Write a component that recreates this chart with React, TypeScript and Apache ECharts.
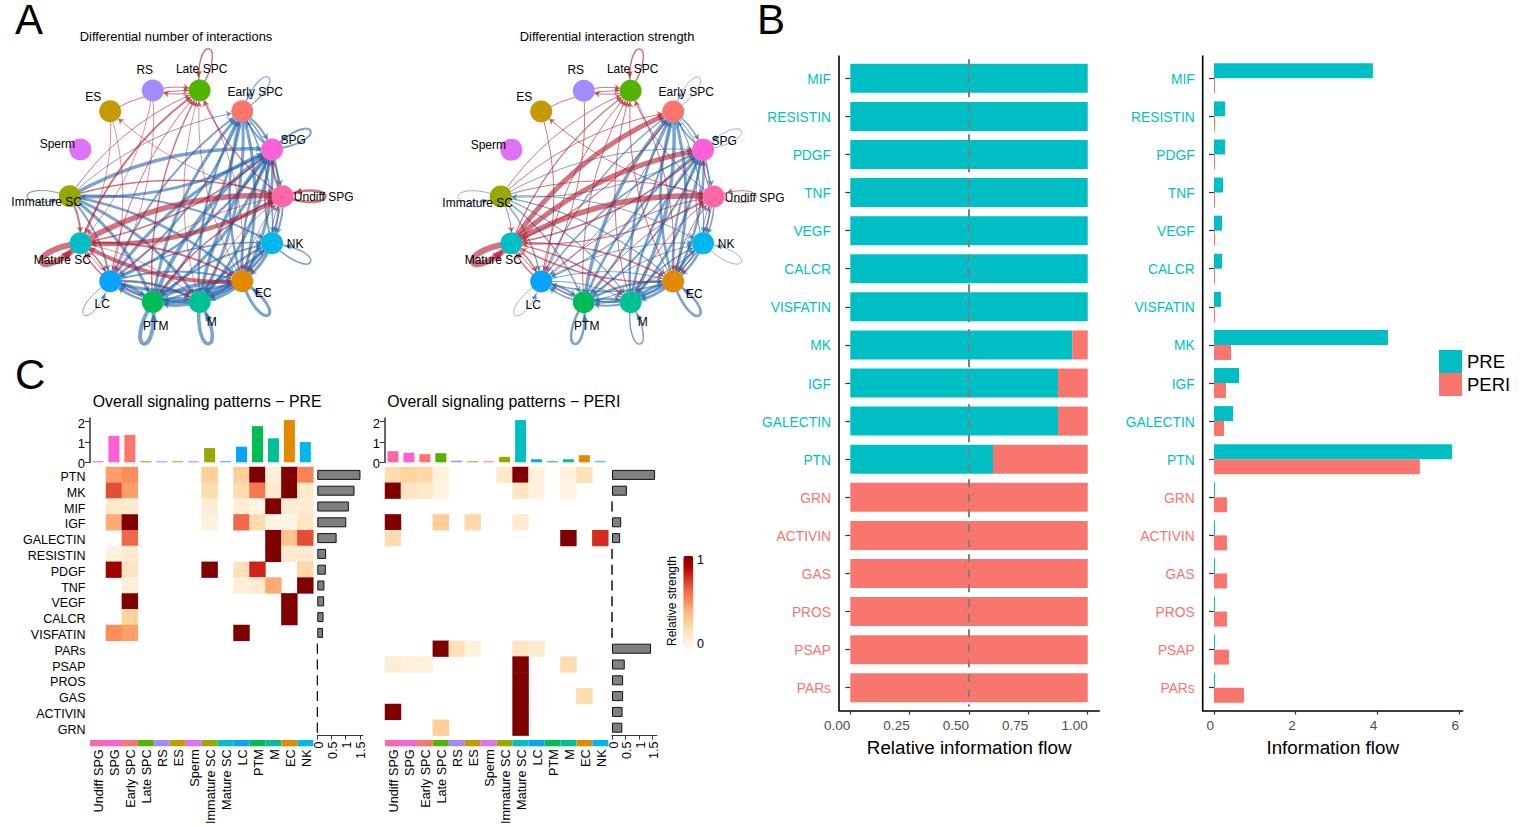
import React, { useEffect, useRef } from "react";
import * as echarts from "echarts";

const FONT = '"Liberation Sans", Arial, sans-serif';

// Panel B
const pathways = ["MIF","RESISTIN","PDGF","TNF","VEGF","CALCR","VISFATIN","MK","IGF","GALECTIN","PTN","GRN","ACTIVIN","GAS","PROS","PSAP","PARs"];
const relPre = [1,1,1,1,1,1,1,0.935,0.875,0.875,0.601,0,0,0,0,0,0];
const relPeri = [0,0,0,0,0,0,0,0.065,0.125,0.125,0.399,1,1,1,1,1,1];
const flowPre = [3.89,0.27,0.27,0.22,0.196,0.196,0.17,4.26,0.612,0.465,5.83,0.025,0.025,0.025,0.025,0.025,0.025];
const flowPeri = [0.025,0.025,0.025,0.025,0.025,0.025,0.025,0.416,0.294,0.245,5.04,0.318,0.318,0.318,0.318,0.367,0.735];
const prePathwayCount = 11;
const relTicks = [0,0.25,0.5,0.75,1];
const flowTicks = [0,2,4,6];
const PRE_COLOR = "#00BFC4";
const PERI_COLOR = "#F8766D";

// Panel C
const cellTypes = ["Undiff SPG","SPG","Early SPC","Late SPC","RS","ES","Sperm","Immature SC","Mature SC","LC","PTM","M","EC","NK"];
const cellColors = ["#FF66A8","#FB61D7","#F8766D","#53B400","#A58AFF","#C49A00","#DF70F8","#99A800","#00BFC4","#06A4FF","#00BC56","#00C094","#E38900","#00B6EB"];
const heatRows = ["PTN","MK","MIF","IGF","GALECTIN","RESISTIN","PDGF","TNF","VEGF","CALCR","VISFATIN","PARs","PSAP","PROS","GAS","ACTIVIN","GRN"];
const preHeat = [
  [0,.45,.5,0,0,0,0,.28,0,.28,1,.07,1,.53],
  [0,.68,.45,0,0,0,0,.2,0,.2,.57,.1,1,.12],
  [0,.12,.1,0,0,0,0,.08,0,.08,.03,1,.08,.09],
  [0,.42,1,0,0,0,0,.05,0,.62,.2,.03,.02,.14],
  [0,0,.62,0,0,0,0,0,0,0,0,1,.33,.68],
  [0,.05,.1,0,0,0,0,0,0,0,0,1,.1,.1],
  [0,.92,.15,0,0,0,0,1,0,.17,.78,0,0,.22],
  [0,0,.07,0,0,0,0,0,0,.07,.1,.42,0,1],
  [0,0,1,0,0,0,0,0,0,0,0,0,1,0],
  [0,0,.26,0,0,0,0,0,0,0,0,0,1,0],
  [0,.5,.45,0,0,0,0,0,0,1,0,0,0,0],
  [0,0,0,0,0,0,0,0,0,0,0,0,0,0],
  [0,0,0,0,0,0,0,0,0,0,0,0,0,0],
  [0,0,0,0,0,0,0,0,0,0,0,0,0,0],
  [0,0,0,0,0,0,0,0,0,0,0,0,0,0],
  [0,0,0,0,0,0,0,0,0,0,0,0,0,0],
  [0,0,0,0,0,0,0,0,0,0,0,0,0,0],
];
const periHeat = [
  [.2,.25,.23,.05,0,0,0,.12,1,.05,0,.05,.17,0],
  [1,.15,.12,.03,0,0,0,0,.14,.05,0,.04,0,0],
  [0,0,0,0,0,0,0,0,0,0,0,0,0,0],
  [1,0,0,.28,0,.22,0,0,.1,0,0,0,0,0],
  [.2,0,0,0,0,0,0,0,0,0,0,1,0,.76],
  [0,0,0,0,0,0,0,0,0,0,0,0,0,0],
  [0,0,0,0,0,0,0,0,0,0,0,0,0,0],
  [0,0,0,0,0,0,0,0,0,0,0,0,0,0],
  [0,0,0,0,0,0,0,0,0,0,0,0,0,0],
  [0,0,0,0,0,0,0,0,0,0,0,0,0,0],
  [0,0,0,0,0,0,0,0,0,0,0,0,0,0],
  [0,0,0,1,.17,.05,0,0,.15,.1,0,0,0,0],
  [.08,.06,.05,0,0,0,0,0,1,0,0,.2,0,0],
  [0,0,0,0,0,0,0,0,1,0,0,0,0,0],
  [0,0,0,0,0,0,0,0,1,0,0,0,.2,0],
  [1,0,0,0,0,0,0,0,1,0,0,0,0,0],
  [0,0,0,.28,0,0,0,0,1,0,0,0,0,0],
];
const preTop = [.05,1.3,1.35,.05,.05,.05,.05,.7,.05,.77,1.78,1.18,2.08,1];
const periTop = [.55,.47,.4,.45,.08,.05,.05,.27,2.08,.15,.05,.15,.35,.05];
const preSide = [1.52,1.31,1.11,1.02,.68,.31,.3,.25,.24,.22,.2,0,0,0,0,0,0];
const periSide = [1.59,.55,0,.34,.3,0,0,0,0,0,0,1.44,.47,.41,.41,.39,.38];
const topTicks = [0,1,2];
const sideTicks = [0,0.5,1,1.5];
const heatRamp = ["#fff7ec","#fee8c8","#fdd49e","#fdbb84","#fc8d59","#ef6548","#d7301f","#b30000","#7f0000"];

// Panel A: node places, on axes that run from -1 to 1
const nodeX = [1,.9,.62,.22,-.22,-.62,-.9,-1,-.9,-.62,-.22,.22,.62,.9];
const nodeY = [0,.43,.78,.97,.97,.78,.43,0,-.43,-.78,-.97,-.97,-.78,-.43];
// [from, to, edge width], node numbers follow cellTypes
const numBlue = [[1,2,2],[2,1,2],[2,13,1.5],[2,12,3],[12,2,2.5],[2,11,3],[11,2,2.5],[10,2,3],[2,10,2.5],[9,2,2],[2,9,2],[2,0,1.5],[7,2,1],
  [1,13,2],[13,1,2],[1,12,3],[12,1,2.5],[1,11,3],[11,1,3.5],[10,1,4],[1,10,3],[9,1,3],[1,9,2.5],[7,1,3.5],[1,7,3],[0,13,2],[13,0,1],
  [7,13,2],[7,12,2.5],[7,11,3],[7,10,3],[7,9,2],[9,10,3],[10,9,2.5],[9,11,2.5],[11,9,3],[12,9,3],[9,12,2],[10,11,3],[11,10,3],[10,12,3.5],[12,10,4],
  [11,12,4],[12,11,4.5],[12,13,3],[13,12,3],[13,11,2.5],[11,13,2.5],[13,10,2],[10,13,2],[9,13,1.5]];
const numRed = [[5,3,1],[4,3,1],[3,4,1],[7,3,1],[8,3,2],[9,3,1],[10,3,1.5],[0,3,1.2],[11,3,.8],[12,3,.8],[0,5,.8],[5,9,.8],[4,9,.8],[7,8,2],
  [0,8,4.5],[8,0,5.5],[7,0,1.5],[1,8,1.5],[12,8,4],[8,12,2],[8,9,1.5],[9,8,1.5],[10,8,.8],[8,11,.8],[9,0,.8],[10,0,1.5],[11,0,.8],[12,0,.8],[0,12,.8],[3,12,.8],[9,11,.8],[0,1,2],[5,8,.8],[4,8,.8]];
const strengthBlue = [[1,2,1.5],[2,1,1.5],[2,13,1.2],[2,12,3],[12,2,2.5],[2,11,3.5],[11,2,2.5],[10,2,3.5],[2,10,2],[9,2,1.5],[2,9,1],[2,0,1],
  [1,13,1.5],[13,1,1.2],[1,12,2.5],[12,1,2],[1,11,2.5],[11,1,2.5],[10,1,2.5],[1,10,2],[9,1,1.5],[1,9,1.2],[7,1,1],[1,7,1],[0,13,1.5],[13,0,1],
  [7,13,1],[7,12,1.2],[7,11,1.2],[7,10,1.5],[7,9,1.5],[9,10,2],[10,9,1.5],[9,11,1],[11,9,1.5],[12,9,1.5],[9,12,1],[10,11,2.5],[11,10,2],[10,12,2.5],[12,10,2.5],
  [11,12,3],[12,11,3],[12,13,2.5],[13,12,2.5],[13,11,1.5],[11,13,1.5],[13,10,1],[10,13,1],[9,13,1]];
const strengthRed = [[5,3,1],[4,3,1],[3,4,1],[7,3,1],[8,3,1.2],[9,3,1],[10,3,1],[0,3,1],[11,3,1],[12,3,1],[0,5,1],[5,9,1],[4,9,1],[7,8,1],
  [8,2,5],[8,1,5],[8,0,5.5],[0,8,1.2],[7,0,1],[7,2,1],[1,8,1.5],[2,8,1.2],[12,8,1.5],[8,12,1.5],[8,9,1.5],[9,8,1.5],[10,8,1],[8,11,1.5],[9,0,1],[10,0,1],[11,0,1],[12,0,1],[0,12,1],[3,12,1],[0,1,1.2]];
// self loops: [node, width, 1 = red / 0 = blue]
const numLoops = [[3,1.5,1],[2,1.2,0],[1,2,0],[0,2.5,1],[13,1.5,0],[12,3,0],[11,3.5,0],[10,4,0],[9,1,0],[8,6,1],[7,1.2,0]];
const strengthLoops = [[3,1.5,1],[2,.8,0],[1,.8,0],[0,1,1],[13,.8,0],[12,2.5,0],[11,1.5,0],[10,2.5,0],[9,.8,0],[8,6,1],[7,.8,0]];
const RED_EDGE = "#b2182b";
const BLUE_EDGE = "#2166ac";

// layout constants
const labelOffsets: Record<string, number[]> = {
  "Undiff SPG":[41,1],"SPG":[21,-9],"Early SPC":[13,-19],"Late SPC":[2,-22],"RS":[-8,-21],"ES":[-17,-14],"Sperm":[-23,-5],
  "Immature SC":[-23,6],"Mature SC":[-18,17],"LC":[-8,23],"PTM":[3,24],"M":[12,20],"EC":[21,12],"NK":[23,1],
};

function network(axisIndex: number, blue: number[][], red: number[][], loops: number[][]) {
  const nodes = cellTypes.map((name, i) => ({
    name,
    value: [nodeX[i], nodeY[i]],
    itemStyle: { color: cellColors[i] },
    label: { show: true, position: "inside", offset: labelOffsets[name], color: "#000", fontSize: 12, fontFamily: FONT, formatter: name },
  }));
  const link = (color: string) => (e: number[]) => ({
    source: cellTypes[e[0]], target: cellTypes[e[1]],
    lineStyle: { width: e[2], color, opacity: 0.6, curveness: 0.15 },
  });
  return [
    {
      type: "custom", coordinateSystem: "cartesian2d", xAxisIndex: axisIndex, yAxisIndex: axisIndex, z: 1, silent: true, clip: false,
      data: loops.map((l) => [nodeX[l[0]], nodeY[l[0]], l[1], l[2]]),
      renderItem: (_p: any, api: any) => {
        const p = api.coord([api.value(0), api.value(1)]);
        const c = api.coord([0, 0]);
        const w = api.value(2);
        const color = api.value(3) === 1 ? RED_EDGE : BLUE_EDGE;
        const len = Math.hypot(p[0] - c[0], p[1] - c[1]);
        const d = [(p[0] - c[0]) / len, (p[1] - c[1]) / len];
        const n = [-d[1], d[0]];
        const L = 57, S = 20;
        const c1 = [p[0] + d[0] * L + n[0] * S, p[1] + d[1] * L + n[1] * S];
        const c2 = [p[0] + d[0] * L - n[0] * S, p[1] + d[1] * L - n[1] * S];
        const t = 0.9, u = 1 - t;
        const q = [3 * u * u * t * c1[0] + 3 * u * t * t * c2[0] + (u * u * u + t * t * t) * p[0], 3 * u * u * t * c1[1] + 3 * u * t * t * c2[1] + (u * u * u + t * t * t) * p[1]];
        const tx = [p[0] - q[0], p[1] - q[1]];
        const tl = Math.hypot(tx[0], tx[1]) || 1;
        const a = [tx[0] / tl, tx[1] / tl], b = [-a[1], a[0]];
        const hs = 2.5 + w * 0.4;
        return {
          type: "group",
          children: [
            { type: "bezierCurve", shape: { x1: p[0], y1: p[1], x2: p[0], y2: p[1], cpx1: c1[0], cpy1: c1[1], cpx2: c2[0], cpy2: c2[1] }, style: { stroke: color, fill: "none", lineWidth: w, opacity: 0.6 } },
            { type: "polygon", shape: { points: [[q[0] + a[0] * hs, q[1] + a[1] * hs], [q[0] - a[0] * hs + b[0] * hs, q[1] - a[1] * hs + b[1] * hs], [q[0] - a[0] * hs - b[0] * hs, q[1] - a[1] * hs - b[1] * hs]] }, style: { fill: color, opacity: 0.7 } },
          ],
        };
      },
    },
    {
      type: "graph", coordinateSystem: "cartesian2d", xAxisIndex: axisIndex, yAxisIndex: axisIndex, z: 2, silent: true,
      symbol: "circle", symbolSize: 22,
      edgeSymbol: ["none", "arrow"], edgeSymbolSize: 5.5,
      data: nodes,
      links: [...blue.map(link(BLUE_EDGE)), ...red.map(link(RED_EDGE))],
      emphasis: { disabled: true },
    },
  ];
}

function heatData(m: number[][]) {
  const out: number[][] = [];
  m.forEach((row, r) => row.forEach((v, c) => { if (v > 0) out.push([c, r, v]); }));
  return out;
}

const axisDark = "#333333";

function buildOption() {
  const bandH = 38.09 * 17;
  const bTop = 78.3 - 19.05;
  const grid: any[] = [
    { left: 839, width: 260.3, top: bTop, height: bandH },
    { left: 1202.7, width: 260, top: bTop, height: bandH },
  ];
  const xAxis: any[] = [];
  const yAxis: any[] = [];
  const series: any[] = [];

  const labelColor = (_v: any, i: number) => (i < prePathwayCount ? PRE_COLOR : PERI_COLOR);
  const bY = (gridIndex: number) => ({
    type: "category", gridIndex, data: pathways, inverse: true,
    axisLine: { show: false },
    axisTick: { show: true, alignWithLabel: true, length: 5, lineStyle: { color: axisDark, width: 1.2 } },
    axisLabel: { color: labelColor, fontSize: 13.8, margin: 8, interval: 0, fontFamily: FONT, verticalAlign: "top", lineHeight: 2 },
    splitLine: { show: false },
  });
  const bX = (gridIndex: number, min: number, max: number, ticks: number[], name: string, fmt: (v: number) => string) => ({
    type: "value", gridIndex, min, max, offset: 3.75, position: "bottom",
    name, nameLocation: "middle", nameGap: 27, nameTextStyle: { fontSize: 18.8, color: "#000", fontFamily: FONT },
    axisLine: { show: true, onZero: false, lineStyle: { color: "#000", width: 1.6 } },
    axisTick: { show: true, length: 4, customValues: ticks, lineStyle: { color: axisDark, width: 1.2 } },
    axisLabel: { customValues: ticks, align: "right", color: "#4d4d4d", fontSize: 13.5, margin: 8, formatter: fmt, fontFamily: FONT },
    splitLine: { show: false },
  });
  xAxis.push(bX(0, -0.0476, 1.0488, relTicks, "Relative information flow", (v) => v.toFixed(2)));
  yAxis.push(bY(0));
  xAxis.push(bX(1, -0.277, 6.09, flowTicks, "Information flow", (v) => String(v)));
  yAxis.push(bY(1));

  series.push({
    type: "bar", name: "PRE", xAxisIndex: 0, yAxisIndex: 0, stack: "rel", barWidth: 29, data: relPre, itemStyle: { color: PRE_COLOR }, silent: true,
    markLine: { silent: true, symbol: "none", label: { show: false }, z: 5, data: [{ xAxis: 0.5 }], lineStyle: { color: "#7f7f7f", type: [8, 7], width: 2 } },
  });
  series.push({ type: "bar", name: "PERI", xAxisIndex: 0, yAxisIndex: 0, stack: "rel", barWidth: 29, data: relPeri, itemStyle: { color: PERI_COLOR }, silent: true });
  series.push({ type: "bar", name: "PRE", xAxisIndex: 1, yAxisIndex: 1, barWidth: 15, barGap: 0, data: flowPre, itemStyle: { color: PRE_COLOR }, silent: true });
  series.push({ type: "bar", name: "PERI", xAxisIndex: 1, yAxisIndex: 1, barWidth: 15, barGap: 0, data: flowPeri, itemStyle: { color: PERI_COLOR }, silent: true });

  const heatIdx: number[] = [];
  const addPanel = (gi: number, left: number, sideLeft: number, sideUnit: number, sideRight: number, top: number[], side: number[], heat: number[][], showRows: boolean) => {
    const width = 223.3, hTop = 467, hH = 268.6;
    // top bars
    grid.push({ left, width, top: 418, height: 44.3 });
    xAxis.push({ type: "category", gridIndex: gi, data: cellTypes, show: false });
    yAxis.push({
      type: "value", gridIndex: gi, min: 0, max: 2.18,
      axisLine: { show: true, lineStyle: { color: axisDark, width: 1.5 } },
      axisTick: { show: true, length: 5, customValues: topTicks, lineStyle: { color: axisDark } },
      axisLabel: { customValues: topTicks, color: "#000", fontSize: 13, margin: 5, fontFamily: FONT, verticalAlign: "top", lineHeight: 3 },
      splitLine: { show: false },
    });
    series.push({ type: "bar", xAxisIndex: gi, yAxisIndex: gi, barWidth: 11, silent: true, data: top.map((v, i) => ({ value: v, itemStyle: { color: cellColors[i] } })) });
    // heat map
    grid.push({ left, width, top: hTop, height: hH });
    xAxis.push({ type: "category", gridIndex: gi + 1, data: cellTypes, show: false, splitArea: { show: false } });
    yAxis.push({
      type: "category", gridIndex: gi + 1, data: heatRows, inverse: true, show: showRows,
      axisLine: { show: false }, axisTick: { show: false },
      axisLabel: { color: "#000", fontSize: 12.5, margin: 4.5, interval: 0, fontFamily: FONT, verticalAlign: "top", lineHeight: 4 }, splitArea: { show: false },
    });
    heatIdx.push(series.length);
    series.push({ type: "heatmap", xAxisIndex: gi + 1, yAxisIndex: gi + 1, data: heatData(heat), silent: true, emphasis: { disabled: true }, itemStyle: { borderWidth: 0 } });
    // side bars
    grid.push({ left: sideLeft, width: sideRight - sideLeft, top: hTop, height: hH });
    xAxis.push({
      type: "value", gridIndex: gi + 2, min: 0, max: (sideRight - sideLeft) / sideUnit, position: "bottom",
      axisLine: { show: true, onZero: false, lineStyle: { color: axisDark, width: 1.2 } },
      axisTick: { show: true, length: 4, customValues: sideTicks, lineStyle: { color: axisDark } },
      axisLabel: { customValues: sideTicks, rotate: 90, color: "#000", fontSize: 12.5, margin: 6, fontFamily: FONT, verticalAlign: "top", lineHeight: 3 },
      splitLine: { show: false },
    });
    yAxis.push({ type: "category", gridIndex: gi + 2, data: heatRows, inverse: true, show: false });
    series.push({ type: "bar", xAxisIndex: gi + 2, yAxisIndex: gi + 2, barWidth: 10, silent: true, data: side.map((v) => (v === 0 ? 0.004 : v)), itemStyle: { color: "#808080", borderColor: "#111", borderWidth: 1 } });
    // colour strip with cell-type labels
    grid.push({ left, width, top: 740, height: 9 });
    xAxis.push({
      type: "category", gridIndex: gi + 3, data: cellTypes,
      axisLine: { show: false }, axisTick: { show: false },
      axisLabel: { rotate: 90, interval: 0, margin: 3, color: "#000", fontSize: 12.7, fontFamily: FONT, verticalAlign: "top", lineHeight: 3 },
    });
    yAxis.push({ type: "value", gridIndex: gi + 3, min: 0, max: 1, show: false });
    series.push({ type: "bar", xAxisIndex: gi + 3, yAxisIndex: gi + 3, barWidth: "100%", silent: true, data: cellColors.map((c) => ({ value: 1, itemStyle: { color: c } })) });
  };
  addPanel(2, 90, 317.3, 28.4, 362.7, preTop, preSide, preHeat, true);
  addPanel(6, 385, 612, 27.1, 656.7, periTop, periSide, periHeat, false);

  // hidden axes that carry the two networks
  const addNetworkAxes = (gi: number, cx: number, cy: number) => {
    grid.push({ left: cx - 106.5, width: 213, top: cy - 109, height: 218 });
    xAxis.push({ type: "value", gridIndex: gi, min: -1, max: 1, show: false });
    yAxis.push({ type: "value", gridIndex: gi, min: -1, max: 1, show: false });
  };
  addNetworkAxes(10, 176.2, 196.3);
  addNetworkAxes(11, 607.2, 196.5);
  series.push(...network(10, numBlue, numRed, numLoops));
  series.push(...network(11, strengthBlue, strengthRed, strengthLoops));

  const text = (s: string, x: number, y: number, size: number, extra: any = {}, rotation = 0) => ({
    type: "text", x, y, rotation, silent: true,
    style: { text: s, fontSize: size, fontFamily: FONT, fill: "#000", textAlign: "left", textVerticalAlign: "middle", ...extra },
  });
  const spine = (x: number) => ({ type: "line", silent: true, shape: { x1: x, y1: 55.4, x2: x, y2: 711 }, style: { stroke: "#000", lineWidth: 1.6 } });

  return {
    animation: false,
    backgroundColor: "#fff",
    textStyle: { fontFamily: FONT },
    grid, xAxis, yAxis, series,
    legend: {
      left: 1439, top: 350, padding: 0, orient: "vertical", itemWidth: 23, itemHeight: 23, itemGap: 0, icon: "rect",
      selectedMode: false, data: ["PRE", "PERI"], textStyle: { fontSize: 18.5, color: "#000", fontFamily: FONT },
    },
    visualMap: {
      type: "continuous", min: 0, max: 1, seriesIndex: heatIdx, left: 683.3, top: 555.7, padding: 0,
      itemWidth: 10, itemHeight: 91, calculable: false, hoverLink: false, inRange: { color: heatRamp },
    },
    graphic: [
      spine(839), spine(1202.7),
      text("A", 15, 19, 42, { lineHeight: 30 }),
      text("B", 757, 19, 42, { lineHeight: 30 }),
      text("C", 15, 374, 42, { lineHeight: 30 }),
      text("Differential number of interactions", 176, 36.5, 12.9, { textAlign: "center" }),
      text("Differential interaction strength", 607, 36.5, 12.9, { textAlign: "center" }),
      text("Overall signaling patterns \u2212 PRE", 92.7, 401.7, 15.8),
      text("Overall signaling patterns \u2212 PERI", 387.3, 401.7, 15.8),
      text("Relative strength", 672, 601, 12, { textAlign: "center" }, Math.PI / 2),
      text("1", 697, 560, 12.5),
      text("0", 697, 644, 12.5),
    ],
  };
}

export default function App() {
  const ref = useRef<HTMLDivElement>(null);
  useEffect(() => {
    const chart = echarts.init(ref.current!, undefined, { renderer: "svg" });
    chart.setOption(buildOption() as any);
    return () => chart.dispose();
  }, []);
  return <div ref={ref} style={{ position: "absolute", left: 0, top: 0, width: 1526, height: 827 }} />;
}
